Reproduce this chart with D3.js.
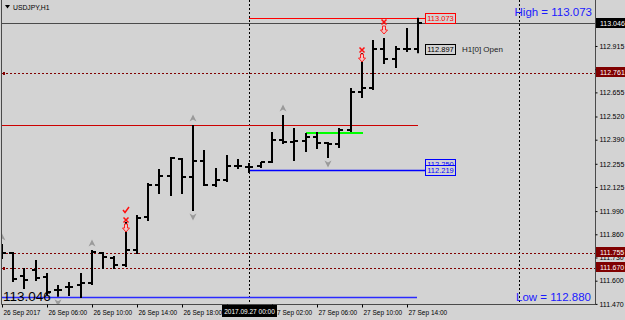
<!DOCTYPE html>
<html>
<head>
<meta charset="utf-8">
<script src="https://cdn.jsdelivr.net/npm/d3@7"></script>
<style>
  body { margin: 0; background: #d3d3d3; }
  svg { display: block; }
  text { font-family: "Liberation Sans", Arial, sans-serif; }
</style>
</head>
<body>
<div id="chart"></div>
<script>
// USDJPY H1 bars, 26 Sep 02:00 .. 27 Sep 15:00
var barOpen  = [111.761,111.755,111.626,111.660,111.621,111.548,111.565,111.576,111.587,111.755,111.727,111.688,111.772,111.957,112.136,112.187,112.282,112.181,112.271,112.136,112.164,112.243,112.237,112.243,112.265,112.388,112.377,112.383,112.405,112.371,112.366,112.444,112.657,112.680,112.897,112.842,112.897,112.897];
var barHigh  = [111.806,111.761,111.671,111.716,111.643,111.576,111.593,111.643,111.772,111.761,111.738,111.929,111.968,112.148,112.226,112.293,112.287,112.472,112.332,112.231,112.304,112.282,112.259,112.265,112.433,112.528,112.456,112.427,112.433,112.377,112.456,112.680,112.876,112.949,112.960,112.915,113.016,113.073];
var barLow   = [111.727,111.598,111.559,111.604,111.526,111.515,111.520,111.509,111.582,111.671,111.671,111.682,111.755,111.940,112.091,112.080,112.091,111.996,112.136,112.131,112.159,112.231,112.209,112.237,112.265,112.371,112.276,112.326,112.343,112.293,112.349,112.439,112.629,112.674,112.820,112.797,112.887,112.880];
var barClose = [111.755,111.610,111.604,111.615,111.537,111.548,111.565,111.587,111.761,111.733,111.688,111.772,111.951,112.136,112.187,112.287,112.181,112.271,112.136,112.164,112.243,112.243,112.237,112.265,112.388,112.377,112.383,112.405,112.371,112.366,112.444,112.657,112.680,112.897,112.842,112.897,112.897,113.046];

// time axis labels (every 4 bars)
var timeBars = [0,4,8,12,16,20,24,28,32,36];
var timeLabels = ["26 Sep 2017","26 Sep 06:00","26 Sep 10:00","26 Sep 14:00","26 Sep 18:00","26 Sep 22:00","27 Sep 02:00","27 Sep 06:00","27 Sep 10:00","27 Sep 14:00"];
var separatorBars = [22, 46];
var separatorLabel = "2017.09.27 00:00";

// price axis
var priceTicks = [112.915,112.785,112.655,112.520,112.390,112.255,112.125,111.990,111.860,111.730,111.600,111.470];
var bid = 113.046;
var dottedLevels = [112.761, 111.755, 111.670];

// fractals and signals
var fractalUpBars = [0, 8, 17, 25];
var fractalDownBars = [5, 17, 29];
var signalBars = [11, 32, 34];
var signalPrices = [111.940, 112.893, 113.049];
var checkBar = 11;
var checkPrice = 111.996;

// horizontal objects
var highPrice = 113.073, lowPrice = 112.880, openPrice = 112.897;
var redLevel = 112.474, greenLevel = 112.429, blueLevel = 112.219, blueLevel2 = 112.250, bottomBlue = 111.507;

var W = 625, H = 320;
var right = 595, bottom = 304;

var svg = d3.select("#chart").append("svg").attr("width", W).attr("height", H);
svg.append("rect").attr("width", W).attr("height", H).attr("fill", "#d3d3d3");

var x = d3.scaleLinear().domain([0, 37]).range([1.8, 418]);
var y = d3.scaleLinear().domain([111.470, 113.046]).range([303.9, 22.6]);
var px = function(i) { return Math.round(x(i)); };

svg.append("clipPath").attr("id", "clip")
  .append("rect").attr("x", 1).attr("y", 0).attr("width", right - 1).attr("height", bottom);

var plot = svg.append("g").attr("clip-path", "url(#clip)");

// period separators
plot.selectAll(".sep").data(separatorBars).enter().append("line")
  .attr("x1", d => px(d) + 0.5).attr("x2", d => px(d) + 0.5)
  .attr("y1", 0).attr("y2", bottom)
  .attr("stroke", "#000").attr("stroke-dasharray", "2,2");

// dotted dark red levels
plot.selectAll(".lvl").data(dottedLevels).enter().append("line")
  .attr("x1", 2).attr("x2", right)
  .attr("y1", d => Math.round(y(d)) + 0.5).attr("y2", d => Math.round(y(d)) + 0.5)
  .attr("stroke", "#800000").attr("stroke-dasharray", "2,2");
plot.selectAll(".lvlmark").data([dottedLevels[0], dottedLevels[2]]).enter().append("rect")
  .attr("x", 3).attr("y", d => Math.round(y(d)) - 1).attr("width", 2).attr("height", 3).attr("fill", "#800000");

// bid line
plot.append("line").attr("x1", 1).attr("x2", right)
  .attr("y1", Math.round(y(bid)) + 0.5).attr("y2", Math.round(y(bid)) + 0.5)
  .attr("stroke", "#4a4a4a");

// red level line
plot.append("line").attr("x1", 2).attr("x2", 418)
  .attr("y1", Math.round(y(redLevel)) + 0.5).attr("y2", Math.round(y(redLevel)) + 0.5)
  .attr("stroke", "#cc0000");

// bottom blue
plot.append("line").attr("x1", 2).attr("x2", 417)
  .attr("y1", Math.round(y(bottomBlue)) + 0.5).attr("y2", Math.round(y(bottomBlue)) + 0.5)
  .attr("stroke", "#2a2aff").attr("stroke-width", 1.5);

// high line
plot.append("line").attr("x1", px(22)).attr("x2", 425)
  .attr("y1", Math.round(y(highPrice)) + 0.5).attr("y2", Math.round(y(highPrice)) + 0.5)
  .attr("stroke", "#ff0000");

// blue level
plot.append("line").attr("x1", px(22)).attr("x2", 425)
  .attr("y1", Math.round(y(blueLevel)) + 0.5).attr("y2", Math.round(y(blueLevel)) + 0.5)
  .attr("stroke", "#0000ff").attr("stroke-width", 1.5);

// green level
plot.append("line").attr("x1", px(27)).attr("x2", px(32) + 1)
  .attr("y1", Math.round(y(greenLevel))).attr("y2", Math.round(y(greenLevel)))
  .attr("stroke", "#00ff00").attr("stroke-width", 2);

// OHLC bars
var bars = plot.selectAll(".bar").data(barOpen.map((o, i) => i)).enter().append("g").attr("class", "bar");
bars.append("line")
  .attr("x1", i => px(i)).attr("x2", i => px(i))
  .attr("y1", i => y(barHigh[i])).attr("y2", i => y(barLow[i]) + 1)
  .attr("stroke", "#000").attr("stroke-width", 2);
bars.append("line")
  .attr("x1", i => px(i) - 4).attr("x2", i => px(i))
  .attr("y1", i => Math.round(y(barOpen[i]))).attr("y2", i => Math.round(y(barOpen[i])))
  .attr("stroke", "#000").attr("stroke-width", 2);
bars.append("line")
  .attr("x1", i => px(i)).attr("x2", i => px(i) + 4)
  .attr("y1", i => Math.round(y(barClose[i]))).attr("y2", i => Math.round(y(barClose[i])))
  .attr("stroke", "#000").attr("stroke-width", 2);

// fractals
plot.selectAll(".fu").data(fractalUpBars).enter().append("path")
  .attr("transform", i => `translate(${px(i)},${y(barHigh[i]) - 7})`)
  .attr("d", "M-3.5,3.5L0,-3.5L3.5,3.5L0,1.5Z").attr("fill", "#9a9a9a");
plot.selectAll(".fd").data(fractalDownBars).enter().append("path")
  .attr("transform", i => `translate(${px(i)},${y(barLow[i]) + 7})`)
  .attr("d", "M-3.5,-3.5L0,3.5L3.5,-3.5L0,-1.5Z").attr("fill", "#9a9a9a");

// sell signals: red x + hollow down arrow
var sig = plot.selectAll(".sig").data(signalBars).enter().append("g")
  .attr("transform", (b, k) => `translate(${px(b)},${Math.round(y(signalPrices[k]))})`);
sig.append("path").attr("d", "M-2.5,-2.5L2.5,2.5M2.5,-2.5L-2.5,2.5")
  .attr("stroke", "#ff1010").attr("stroke-width", 1.5).attr("fill", "none");
sig.append("path").attr("d", "M-1.5,4L1.5,4L1.5,8L3.5,8L0,12L-3.5,8L-1.5,8Z")
  .attr("stroke", "#ff2020").attr("fill", "#f0c8c8").attr("stroke-width", 1);
plot.append("path")
  .attr("transform", `translate(${px(checkBar)},${Math.round(y(checkPrice))})`)
  .attr("d", "M-3,0L-1,2.5L3,-3").attr("stroke", "#ff1010").attr("stroke-width", 1.5).attr("fill", "none");

// label boxes next to lines
function tagBox(price, txt, color, dy) {
  var cy = Math.round(y(price)) + (dy || 0);
  svg.append("rect").attr("x", 425.5).attr("y", cy - 4.5).attr("width", 30).attr("height", 10)
    .attr("fill", "#d3d3d3").attr("stroke", color);
  svg.append("text").attr("x", 440.5).attr("y", cy + 3).attr("text-anchor", "middle")
    .attr("font-size", "7.5px").attr("fill", color).text(txt);
}
tagBox(highPrice, d3.format(".3f")(highPrice), "#ff0000");
tagBox(openPrice, d3.format(".3f")(openPrice), "#000");
tagBox(blueLevel2, d3.format(".3f")(blueLevel2), "#0000ff", -1);
tagBox(blueLevel, d3.format(".3f")(blueLevel), "#0000ff");
svg.append("text").attr("x", 462).attr("y", Math.round(y(openPrice)) + 3)
  .attr("font-family", "Liberation Mono, monospace").attr("font-size", "8px").attr("fill", "#222")
  .text("H1[0] Open");

// big texts
svg.append("text").attr("x", 592).attr("y", 16).attr("text-anchor", "end")
  .attr("font-size", "11.5px").attr("fill", "#1a1aff").text("High = " + d3.format(".3f")(highPrice));
svg.append("text").attr("x", 591).attr("y", 301).attr("text-anchor", "end")
  .attr("font-size", "11.5px").attr("fill", "#1a1aff").text("Low = " + d3.format(".3f")(lowPrice));
svg.append("text").attr("x", 3).attr("y", 301)
  .attr("font-size", "13.5px").attr("fill", "#000").text(d3.format(".3f")(bid));

// header
svg.append("path").attr("d", "M5,5L10,5L7.5,8.5Z").attr("fill", "#000");
svg.append("text").attr("x", 13).attr("y", 9.5).attr("font-size", "6.8px").attr("fill", "#000").text("USDJPY,H1");

// frame
svg.append("path").attr("d", `M1.5,0V${bottom + 0.5}H${right + 0.5}V0`)
  .attr("fill", "none").attr("stroke", "#4a4a4a");

// price axis
var yAxis = d3.axisRight(y).tickValues(priceTicks).tickSize(2).tickPadding(2)
  .tickFormat(d3.format(".3f"));
var ya = svg.append("g").attr("transform", `translate(${right + 0.5},0)`).call(yAxis);
ya.select(".domain").remove();
ya.selectAll("text").attr("font-size", "7px").attr("font-family", "Liberation Sans, Arial, sans-serif").attr("fill", "#000");
ya.selectAll("line").attr("stroke", "#000");

// price boxes on axis
var boxes = [{p: bid, c: "#000"}].concat(dottedLevels.map(p => ({p: p, c: "#800000"})));
var bx = svg.selectAll(".pbox").data(boxes).enter().append("g")
  .attr("transform", d => `translate(${right + 1},${Math.round(y(d.p)) - (d.p === bid ? 0 : 1)})`);
bx.append("rect").attr("x", 0).attr("y", -5).attr("width", 30).attr("height", 10).attr("fill", d => d.c);
bx.append("text").attr("x", 4).attr("y", 2.5).attr("font-size", "7px").attr("fill", "#fff")
  .text(d => d3.format(".3f")(d.p));

// time axis
var xAxis = d3.axisBottom(x).tickValues(timeBars).tickSize(3).tickPadding(3)
  .tickFormat((d, k) => timeLabels[k]);
var xa = svg.append("g").attr("transform", `translate(0.5,${bottom + 0.5})`).call(xAxis);
xa.select(".domain").remove();
xa.selectAll(".tick").attr("transform", d => `translate(${px(d)},0)`);
xa.selectAll("text").attr("text-anchor", "start").attr("x", 1).attr("dy", "0.75em")
  .attr("font-size", "6.5px").attr("font-family", "Liberation Sans, Arial, sans-serif").attr("fill", "#000");
xa.selectAll("line").attr("stroke", "#000");

// separator date box
var sx = px(separatorBars[0]);
svg.append("rect").attr("x", sx - 27).attr("y", 305).attr("width", 55).attr("height", 12).attr("fill", "#000");
svg.append("text").attr("x", sx + 0.5).attr("y", 314).attr("text-anchor", "middle")
  .attr("font-size", "6.5px").attr("fill", "#fff").text(separatorLabel);
</script>
</body>
</html>
